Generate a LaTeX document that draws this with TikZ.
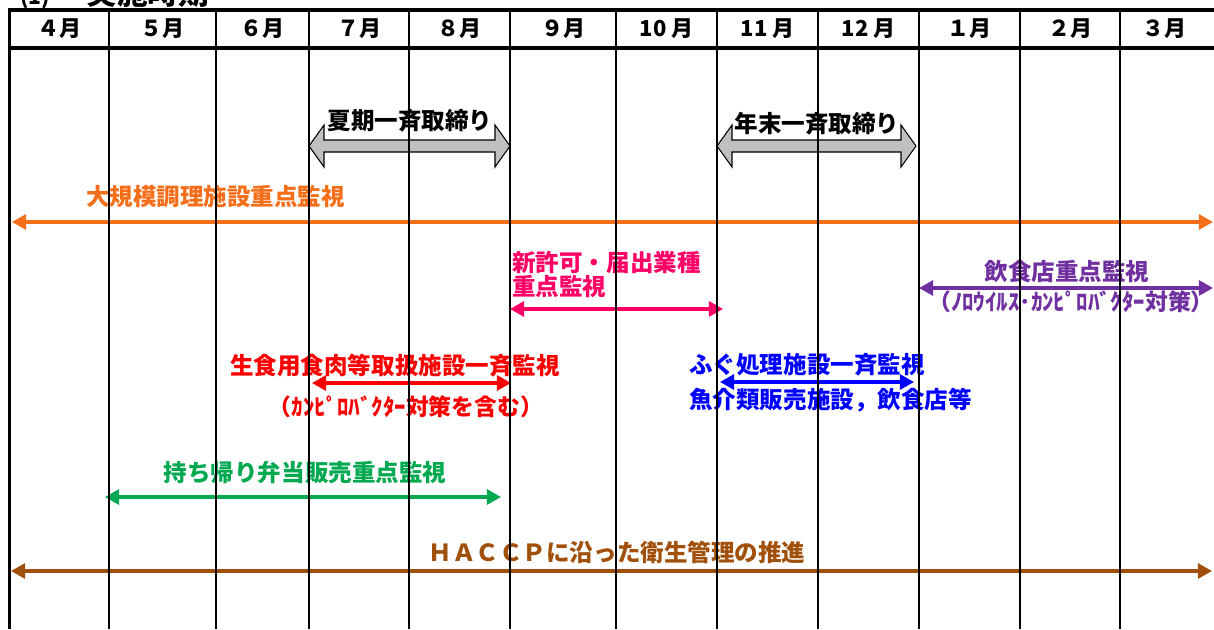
\documentclass[tikz,border=0pt]{standalone}
\usepackage{fontspec}
\setmainfont{Noto Sans CJK JP}
\usetikzlibrary{arrows.meta}

\definecolor{kanshiorange}{RGB}{245,110,25}
\definecolor{kanshipink}{RGB}{255,0,102}
\definecolor{kanshipurple}{RGB}{112,48,160}
\definecolor{kanshiblue}{RGB}{0,0,255}
\definecolor{kanshired}{RGB}{250,0,0}
\definecolor{kanshigreen}{RGB}{0,168,80}
\definecolor{kanshibrown}{RGB}{160,80,10}
\definecolor{campgray}{RGB}{192,192,192}

\begin{document}
\begin{tikzpicture}[x=0.02cm,y=-0.02cm,
        bartext/.style={inner sep=0pt,font=\fontsize{13.4}{14.2}\selectfont\bfseries},
        subtext/.style={inner sep=0pt,font=\fontsize{13}{14}\selectfont\bfseries},
        monthtext/.style={inner sep=0pt,font=\fontsize{12.5}{14}\selectfont\bfseries},
        bar/.style={line width=1.8pt,{Triangle[length=8pt,width=8.5pt]}-{Triangle[length=8pt,width=8.5pt]}},
        campaign/.style={draw=black,line width=0.6pt,fill=campgray},
        gridline/.style={line width=1.1pt},
        frame/.style={line width=1.8pt}]
    \useasboundingbox (0,0) rectangle (1214,629);

    % title, cut off at the top edge
    \node[anchor=base west,inner sep=0pt,font=\fontsize{12}{14}\selectfont\bfseries] at (20,4) (titleno) {(1)};
    \node[anchor=base west,inner sep=0pt,font=\fontsize{17.5}{20}\selectfont\bfseries] at (86,4) (title) {実施時期};

    % months
    \foreach \cx/\m [count=\i] in {59.5/４月,162.5/５月,262.5/６月,359/７月,459.5/８月,563/９月,
                                    666.5/10 月,767.5/11 月,868.5/12 月,969.5/１月,1070/２月,1164/３月}
        \node[monthtext] at (\cx,29) (month\i) {\m};

    % campaigns
    \draw[campaign] (309,146) -- (324,125) -- (324,140) -- (495,140) -- (495,125) -- (510,146)
                    -- (495,167) -- (495,152) -- (324,152) -- (324,167) -- cycle;
    \node[bartext] at (410,121) (summer) {夏期一斉取締り};
    \draw[campaign] (717,146) -- (732,125) -- (732,140) -- (901,140) -- (901,125) -- (916,146)
                    -- (901,167) -- (901,152) -- (732,152) -- (732,167) -- cycle;
    \node[bartext] at (817,124) (yearend) {年末一斉取締り};

    % large-scale kitchens
    \node[bartext,kanshiorange] at (215.5,197) (largetxt) {大規模調理施設重点監視};
    \coordinate (large-l) at (12,222);
    \coordinate (large-r) at (1213,222);
    \draw[bar,kanshiorange] (large-l) -- (large-r);

    % new permits
    \node[bartext,kanshipink,anchor=west,align=left] at (512,274.5) (newtxt) {新許可・届出業種\\重点監視};
    \coordinate (new-l) at (510,309);
    \coordinate (new-r) at (723,309);
    \draw[bar,kanshipink] (new-l) -- (new-r);

    % restaurants
    \node[bartext,kanshipurple] at (1067,272) (resttxt) {飲食店重点監視};
    \node[subtext,kanshipurple] at (1071,302) (restsub) {（ﾉﾛｳｲﾙｽ･ｶﾝﾋﾟﾛﾊﾞｸﾀｰ対策）};
    \coordinate (rest-l) at (919,288);
    \coordinate (rest-r) at (1213,288);
    \draw[bar,kanshipurple] (rest-l) -- (rest-r);

    % raw meat
    \node[bartext,kanshired] at (395,366) (meattxt) {生食用食肉等取扱施設一斉監視};
    \node[subtext,kanshired] at (406,407) (meatsub) {（ｶﾝﾋﾟﾛﾊﾞｸﾀｰ対策を含む）};
    \coordinate (meat-l) at (312,383);
    \coordinate (meat-r) at (511,383);
    \draw[bar,kanshired] (meat-l) -- (meat-r);

    % pufferfish
    \node[bartext,kanshiblue,anchor=west] at (689,365) (fugutxt) {ふぐ処理施設一斉監視};
    \node[bartext,kanshiblue,anchor=west] at (689,400) (fugusub) {魚介類販売施設，飲食店等};
    \coordinate (fugu-l) at (720,382);
    \coordinate (fugu-r) at (914,382);
    \draw[bar,kanshiblue] (fugu-l) -- (fugu-r);

    % take-away lunches
    \node[bartext,kanshigreen] at (305,473) (bentotxt) {持ち帰り弁当販売重点監視};
    \coordinate (bento-l) at (105,497);
    \coordinate (bento-r) at (501,497);
    \draw[bar,kanshigreen] (bento-l) -- (bento-r);

    % HACCP
    \node[bartext,kanshibrown] at (617,552) (haccptxt) {ＨＡＣＣＰに沿った衛生管理の推進};
    \coordinate (haccp-l) at (11,571);
    \coordinate (haccp-r) at (1212,571);
    \draw[bar,kanshibrown] (haccp-l) -- (haccp-r);

    % table lines on top
    \foreach \x in {109,216,309,409,510,616,717,818,919,1020,1120}
        \draw[gridline] (\x,10) -- (\x,629);
    \draw[frame] (9.5,629) -- (9.5,10) -- (1214,10);
    \draw[frame] (9.5,48) -- (1214,48);
\end{tikzpicture}
\end{document}
